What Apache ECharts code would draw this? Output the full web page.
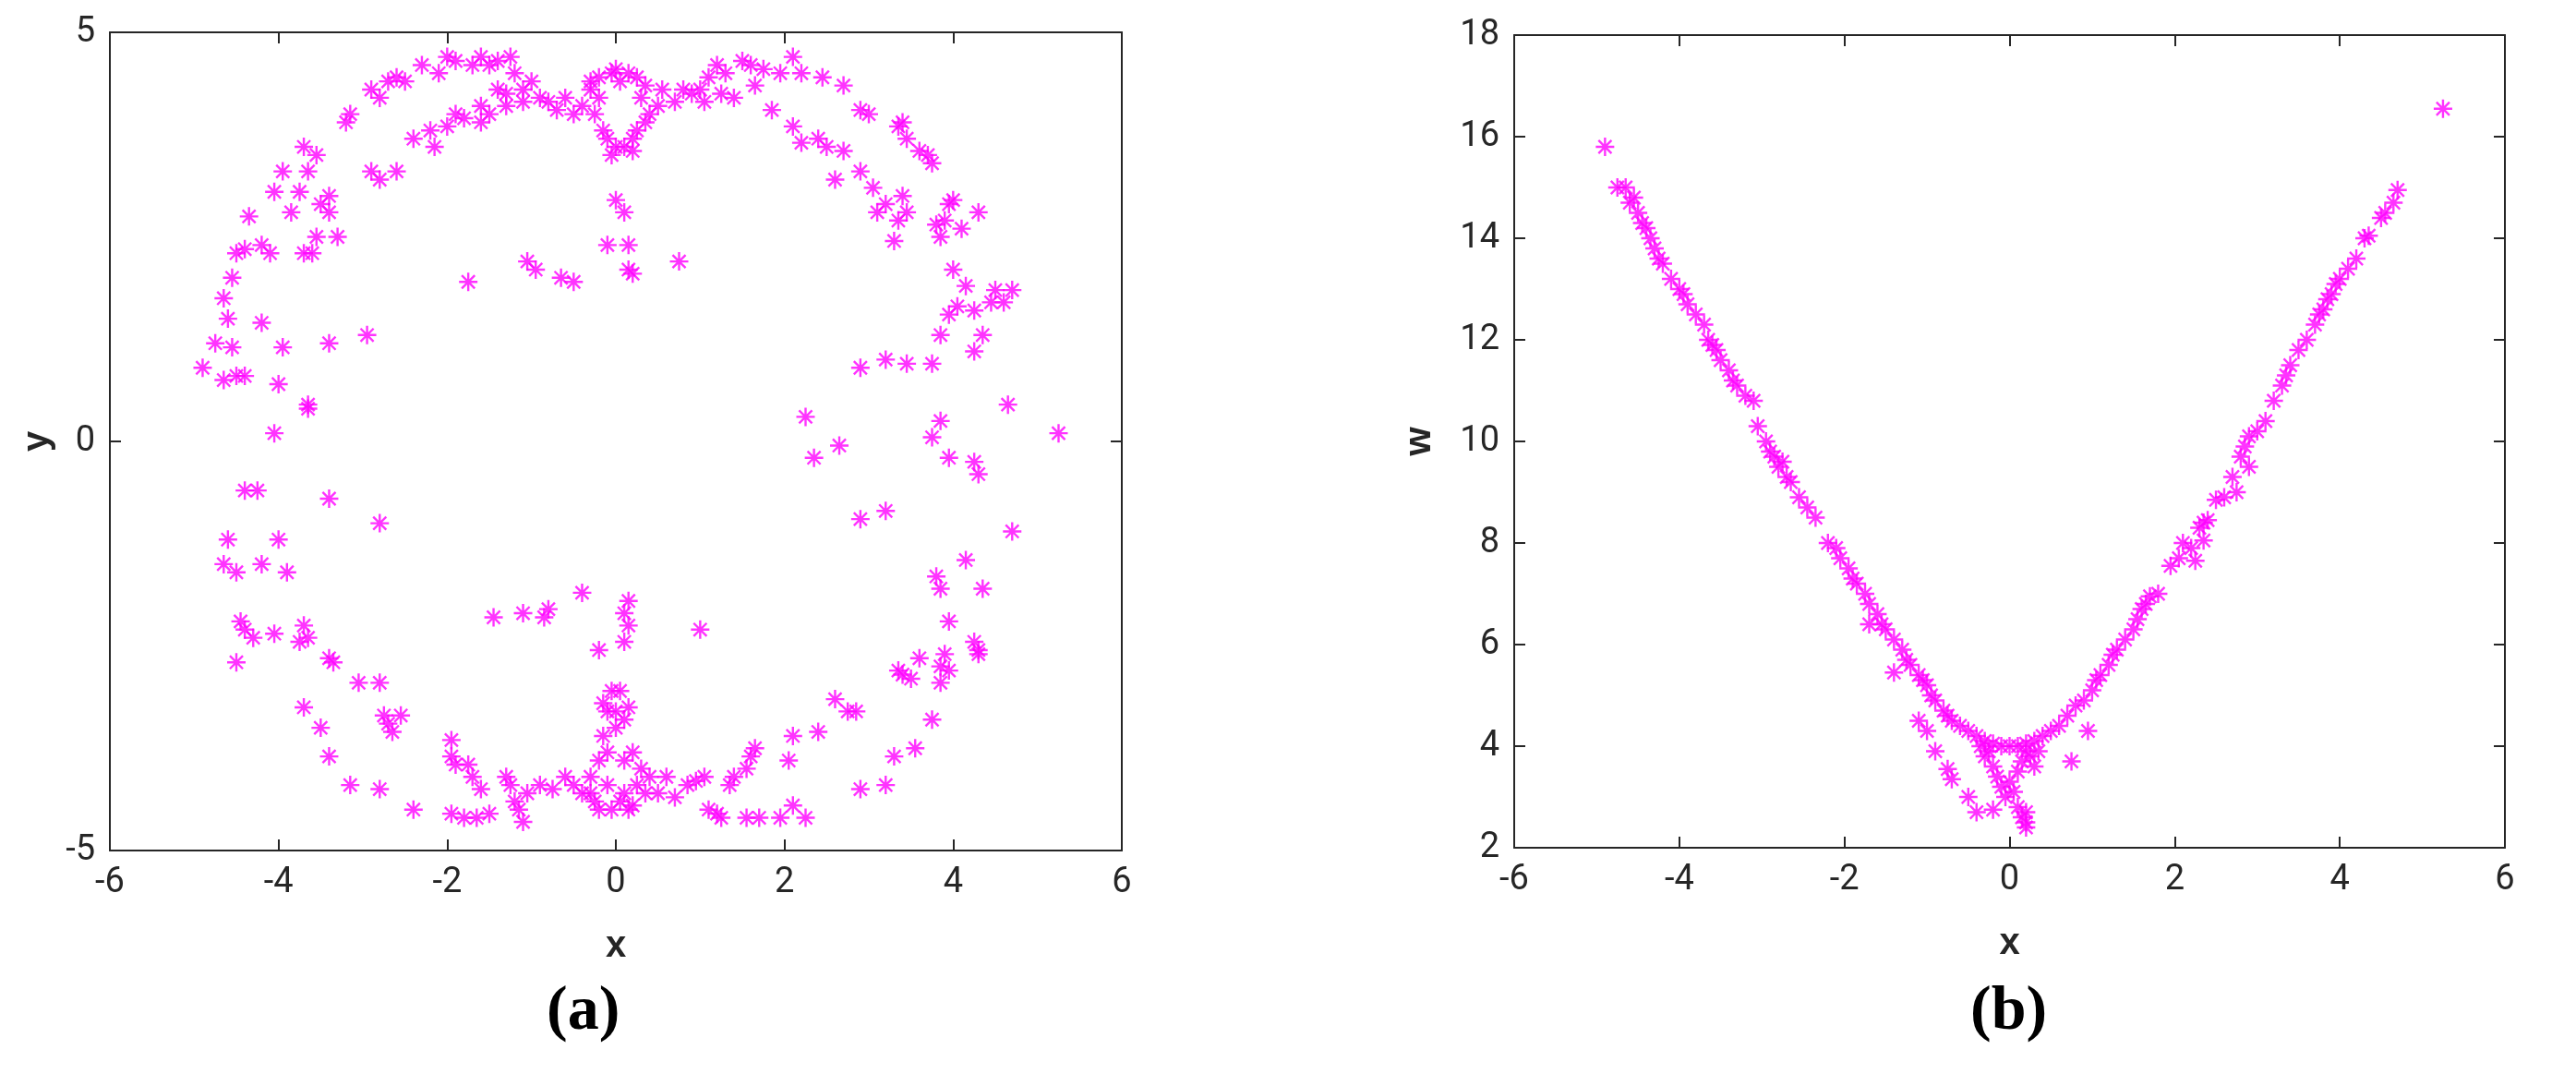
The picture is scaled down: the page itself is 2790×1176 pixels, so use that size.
<!DOCTYPE html>
<html>
<head>
<meta charset="utf-8">
<script src="https://cdn.jsdelivr.net/npm/echarts@6/dist/echarts.min.js"></script>
<style>
  html, body { margin: 0; padding: 0; background: #fff; }
  #main { width: 2790px; height: 1176px; }
</style>
</head>
<body>
<div id="main"></div>
<script>
// panel (a): x vs y
var pointsXY = [
  [-4.9,0.9],[-4.75,1.2],[-4.65,1.75],[-4.6,1.5],[-4.55,2.0],[-4.5,2.3],[-4.4,2.35],[-4.35,2.75],[-4.2,2.4],[-4.1,2.3],
  [-4.05,3.05],[-3.95,3.3],[-3.85,2.8],[-3.75,3.05],[-3.7,2.3],[-3.65,3.3],[-3.6,2.3],[-3.55,2.5],[-3.5,2.9],[-3.4,3.0],
  [-3.4,2.8],[-3.3,2.5],[-3.7,3.6],[-3.55,3.5],[-3.2,3.9],[-3.15,4.0],[-2.9,4.3],[-2.8,4.2],[-2.7,4.4],[-2.6,4.45],
  [-2.5,4.4],[-2.3,4.6],[-2.1,4.5],[-2.0,4.7],[-1.9,4.65],[-1.7,4.6],[-1.6,4.7],[-1.5,4.6],[-1.4,4.65],[-1.25,4.7],
  [-1.2,4.5],[-1.1,4.3],[-1.0,4.4],[-0.9,4.2],[-0.8,4.15],[-0.7,4.05],[-0.6,4.2],[-0.5,4.0],[-0.4,4.1],[-0.3,4.4],
  [-0.25,4.0],[-0.2,4.2],[-0.15,3.8],[-0.1,3.7],[-0.05,4.5],[0,3.6],[0.05,4.4],[0.1,3.6],[0.15,4.5],[0.2,3.7],
  [0.25,3.8],[0.3,4.2],[0.35,3.9],[0.4,4.0],[0.5,4.1],[0.55,4.3],[0.7,4.15],[0.8,4.3],[0.9,4.25],[1.0,4.3],
  [1.1,4.45],[1.2,4.6],[1.3,4.5],[1.4,4.2],[1.5,4.65],[1.6,4.6],[1.65,4.35],[1.75,4.55],[1.85,4.05],[1.95,4.5],
  [2.1,4.7],[2.2,4.5],[2.45,4.45],[2.7,4.35],[2.9,4.05],[3.0,4.0],[-0.3,4.3],[-0.2,4.45],[0.0,4.55],[0.25,4.45],
  [0.35,4.35],[0.2,3.55],[-0.05,3.5],[1.05,4.15],[1.25,4.25],[-1.1,4.15],[-1.3,4.25],
  [-2.9,3.3],[-2.8,3.2],[-2.6,3.3],[-2.4,3.7],[-2.2,3.8],[-2.15,3.6],[-2.0,3.85],[-1.9,4.0],[-1.8,3.95],[-1.6,3.9],
  [-1.6,4.1],[-1.4,4.3],[-1.3,4.1],[-1.5,4.0],
  [2.1,3.85],[2.2,3.65],[2.4,3.7],[2.5,3.6],[2.7,3.55],[2.6,3.2],[2.9,3.3],[3.05,3.1],[3.1,2.8],[3.2,2.9],
  [3.3,2.45],[3.35,2.7],[3.4,3.0],[3.45,2.8],[3.35,3.85],[3.4,3.9],[3.45,3.7],[3.6,3.55],[3.7,3.5],[3.75,3.4],
  [3.8,2.65],[3.85,2.5],[3.9,2.7],[3.95,2.9],[4.0,2.95],[4.1,2.6],[4.3,2.8],[4.0,2.1],[4.05,1.65],[4.15,1.9],
  [3.95,1.55],[3.85,1.3],[4.25,1.6],[4.35,1.3],[4.45,1.7],[4.5,1.85],[4.6,1.7],[4.7,1.85],[4.25,1.1],[3.75,0.95],
  [3.45,0.95],[3.2,1.0],[2.9,0.9],
  [-0.1,2.4],[0,2.95],[0.1,2.8],[0.15,2.4],[0.15,2.1],[0.2,2.05],[0.75,2.2],[-0.5,1.95],[-0.65,2.0],[-0.95,2.1],
  [-1.05,2.2],[-1.75,1.95],[-2.95,1.3],[-3.4,1.2],[-3.95,1.15],[-4.0,0.7],[-4.4,0.8],[-4.5,0.8],[-4.65,0.75],[-4.55,1.15],
  [-4.2,1.45],[-3.65,0.45],[-3.65,0.4],[-4.05,0.1],
  [2.25,0.3],[2.35,-0.2],[2.65,-0.05],[3.85,0.25],[3.75,0.05],[3.95,-0.2],[4.25,-0.25],[4.3,-0.4],[4.65,0.45],[5.25,0.1],
  [2.9,-0.95],[3.2,-0.85],[4.7,-1.1],
  [-4.4,-0.6],[-4.25,-0.6],[-3.4,-0.7],[-2.8,-1.0],[-4.6,-1.2],[-4.0,-1.2],[-4.65,-1.5],[-4.5,-1.6],[-4.2,-1.5],[-3.9,-1.6],
  [-4.45,-2.2],[-4.4,-2.3],[-4.3,-2.4],[-4.5,-2.7],[-4.05,-2.35],[-3.75,-2.45],[-3.7,-2.25],[-3.65,-2.4],[-3.4,-2.65],[-3.35,-2.7],
  [-3.05,-2.95],[-2.8,-2.95],[-3.7,-3.25],[-3.5,-3.5],[-3.4,-3.85],[-3.15,-4.2],[-2.8,-4.25],[-2.75,-3.35],[-2.7,-3.45],[-2.65,-3.55],
  [-2.55,-3.35],[-2.4,-4.5],[-1.95,-3.65],[-1.95,-3.85],[-1.9,-3.95],[-1.75,-3.95],[-1.7,-4.1],[-1.6,-4.25],[-1.95,-4.55],[-1.8,-4.6],
  [-1.65,-4.6],[-1.5,-4.55],[-1.3,-4.1],[-1.25,-4.2],[-1.2,-4.4],[-1.15,-4.5],[-1.1,-4.65],[-1.05,-4.3],[-0.9,-4.2],[-0.75,-4.25],
  [-0.6,-4.1],[-0.5,-4.2],[-0.4,-4.3],[-0.3,-4.1],[-0.25,-4.4],[-0.2,-3.9],[-0.15,-3.6],[-0.1,-3.3],[-0.05,-4.5],[0,-3.5],
  [0.05,-4.4],[0.1,-3.4],[0.15,-4.5],[0.2,-3.8],[0.25,-4.2],[0.3,-4.0],[0.4,-4.1],[0.5,-4.3],[0.6,-4.1],[0.7,-4.35],
  [0.85,-4.2],[0.95,-4.15],[1.05,-4.1],[1.1,-4.5],[1.2,-4.55],[1.25,-4.6],[1.35,-4.2],[1.4,-4.1],[1.55,-4.0],[1.6,-3.85],
  [1.65,-3.75],[1.55,-4.6],[1.7,-4.6],[1.95,-4.6],[2.1,-4.45],[2.25,-4.6],[2.05,-3.9],[2.1,-3.6],[2.4,-3.55],[2.6,-3.15],
  [2.75,-3.3],[2.85,-3.3],[2.9,-4.25],[3.2,-4.2],[3.3,-3.85],[3.55,-3.75],[3.35,-2.8],[3.4,-2.85],[3.5,-2.9],[3.6,-2.65],
  [3.75,-3.4],[3.85,-2.95],[3.95,-2.8],[3.9,-2.6],[3.85,-2.75],[3.95,-2.2],[4.25,-2.45],[4.3,-2.55],[4.3,-2.6],[3.8,-1.65],
  [3.85,-1.8],[4.15,-1.45],[4.35,-1.8],
  [-0.2,-2.55],[0.1,-2.45],[0.15,-2.25],[0.1,-2.1],[0.15,-1.95],[-0.4,-1.85],[-0.85,-2.15],[-0.8,-2.05],[-1.1,-2.1],[-1.45,-2.15],
  [1.0,-2.3],[-0.05,-3.05],[0.05,-3.05],[0,-3.3],[-0.1,-3.8],[0.1,-3.9],[-0.1,-4.2],[0.1,-4.3],[-0.2,-4.5],[0.2,-4.45],
  [-0.3,-4.3],[0.35,-4.3],[-0.15,-3.2],[0.15,-3.25]
];

// panel (b): x vs w
var pointsXW = [
  [-4.9,15.8],[5.25,16.55],[-1.4,5.45],[-1.1,4.5],[-1.0,4.3],[-0.9,3.9],[-0.75,3.55],[-0.7,3.35],[-0.5,3.0],[-0.4,2.7],
  [-0.2,2.75],[0.2,2.4],[0.15,2.6],[0.75,3.7],[0.95,4.3],[-1.7,6.4],
  [-4.75,15.0],[-4.65,15.0],[-4.6,14.7],[-4.55,14.8],[-4.5,14.5],[-4.45,14.3],[-4.4,14.2],[-4.35,14.0],[-4.3,13.8],[-4.25,13.6],
  [-4.2,13.5],[-4.1,13.2],[-4.0,13.0],[-3.95,12.9],[-3.9,12.7],[-3.8,12.5],[-3.7,12.3],[-3.65,12.0],[-3.6,11.9],[-3.55,11.8],
  [-3.5,11.6],[-3.4,11.4],[-3.35,11.2],[-3.3,11.1],[-3.2,10.9],[-3.1,10.8],[-3.05,10.3],[-2.95,10.0],[-2.9,9.8],[-2.85,9.7],
  [-2.8,9.5],[-2.75,9.6],[-2.7,9.3],[-2.65,9.2],[-2.55,8.9],[-2.45,8.7],[-2.35,8.5],[-2.2,8.0],[-2.1,7.9],[-2.05,7.7],
  [-1.95,7.5],[-1.9,7.3],[-1.85,7.2],[-1.75,7.0],[-1.7,6.8],[-1.6,6.6],[-1.55,6.4],[-1.5,6.3],[-1.4,6.1],[-1.3,5.9],
  [-1.25,5.7],[-1.2,5.6],[-1.1,5.4],[-1.05,5.3],[-1.0,5.2],[-0.95,5.0],[-0.9,4.9],[-0.8,4.7],[-0.75,4.6],[-0.7,4.5],
  [-0.6,4.4],[-0.5,4.3],[-0.4,4.2],[-0.3,4.1],[-0.2,4.05],[-0.1,4.0],[0,4.0],
  [0.1,4.0],[0.2,4.05],[0.3,4.1],[0.4,4.2],[0.5,4.3],[0.6,4.4],[0.7,4.6],[0.8,4.8],[0.9,4.9],[1.0,5.1],
  [1.05,5.3],[1.1,5.4],[1.2,5.6],[1.25,5.8],[1.3,5.9],[1.4,6.1],[1.5,6.3],[1.55,6.5],[1.6,6.7],[1.65,6.8],
  [1.7,6.95],[1.8,7.0],[1.95,7.55],[2.05,7.7],[2.1,8.0],[2.2,7.9],[2.25,7.65],[2.3,8.3],[2.35,8.4],[2.4,8.45],
  [2.35,8.05],[2.5,8.85],[2.6,8.9],[2.7,9.3],[2.75,9.0],[2.8,9.7],[2.85,9.9],[2.9,10.1],[2.9,9.5],[3.0,10.2],
  [3.1,10.4],[3.2,10.8],[3.3,11.1],[3.35,11.3],[3.4,11.5],[3.5,11.8],[3.6,12.0],[3.7,12.3],[3.75,12.5],[3.8,12.6],
  [3.85,12.8],[3.9,12.9],[3.95,13.1],[4.0,13.2],[4.1,13.4],[4.2,13.6],[4.3,14.0],[4.35,14.05],[4.5,14.4],[4.55,14.5],
  [4.65,14.7],[4.7,14.95],
  [-0.3,3.8],[-0.2,3.6],[-0.15,3.4],[-0.1,3.2],[-0.05,3.0],[0,3.3],[0.05,3.1],[0.1,3.5],[0.15,3.7],[0.2,3.9],
  [0.25,3.8],[0.3,3.6],[-0.25,3.9],[0.1,2.8],[0.2,2.7],[0.2,2.5],[0.35,3.9],[-0.35,4.0]
];

var xTicksMin = -6, xTicksMax = 6;
var panelLabels = ['(a)', '(b)'];

var MAGENTA = '#ff00ff';
// eight-armed asterisk like MATLAB '*'
var STAR = 'path://M8.8,0h2.4v20h-2.4z M0,8.8h20v2.4h-20z M2.1,3.8l1.7,-1.7l14.1,14.1l-1.7,1.7z M16.2,2.1l1.7,1.7l-14.1,14.1l-1.7,-1.7z';

var chart = echarts.init(document.getElementById('main'));
var FONT = 'Roboto, "Liberation Sans", sans-serif';
var tickLabel = { color: '#262626', fontSize: 38, fontFamily: FONT, margin: 16 };
var line = { show: true, onZero: false, lineStyle: { color: '#262626', width: 2 } };
var tick = { show: true, inside: true, length: 12, lineStyle: { color: '#262626', width: 2 } };
var nameStyle = { fontSize: 40, fontWeight: 'bold', color: '#262626', fontFamily: '"Liberation Sans", Arial, sans-serif' };

function mainX(grid, name) {
  return { gridIndex: grid, type: 'value', min: xTicksMin, max: xTicksMax, interval: 2,
    axisLine: line, axisTick: tick, axisLabel: tickLabel, splitLine: { show: false },
    name: name, nameLocation: 'middle', nameGap: 84, nameTextStyle: nameStyle };
}
function sideAxis(grid, pos, min, max, interval) {
  return { gridIndex: grid, type: 'value', position: pos, min: min, max: max, interval: interval,
    axisLine: line, axisTick: tick, axisLabel: { show: false }, splitLine: { show: false } };
}
function mainY(grid, name, min, max, interval, gap) {
  return { gridIndex: grid, type: 'value', min: min, max: max, interval: interval,
    axisLine: line, axisTick: tick, axisLabel: tickLabel, splitLine: { show: false },
    name: name, nameLocation: 'middle', nameGap: gap, nameTextStyle: nameStyle };
}

chart.setOption({
  backgroundColor: '#fff',
  animation: false,
  grid: [
    { left: 119, right: 1575, top: 35, bottom: 255 },
    { left: 1640, right: 77, top: 38, bottom: 258 }
  ],
  xAxis: [
    mainX(0, 'x'), sideAxis(0, 'top', xTicksMin, xTicksMax, 2),
    mainX(1, 'x'), sideAxis(1, 'top', xTicksMin, xTicksMax, 2)
  ],
  yAxis: [
    mainY(0, 'y', -5, 5, 5, 58), sideAxis(0, 'right', -5, 5, 5),
    mainY(1, 'w', 2, 18, 2, 82), sideAxis(1, 'right', 2, 18, 2)
  ],
  graphic: [
    { type: 'text', left: 632 - 40, top: 1062, style: { text: panelLabels[0], fontSize: 68, fontWeight: 'bold',
      fontFamily: '"Liberation Serif", "DejaVu Serif", serif', fill: '#000' } },
    { type: 'text', left: 2174 - 40, top: 1062, style: { text: panelLabels[1], fontSize: 68, fontWeight: 'bold',
      fontFamily: '"Liberation Serif", "DejaVu Serif", serif', fill: '#000' } }
  ],
  series: [
    { type: 'scatter', xAxisIndex: 0, yAxisIndex: 0, data: pointsXY, symbol: STAR, symbolSize: 20,
      itemStyle: { color: MAGENTA } },
    { type: 'scatter', xAxisIndex: 2, yAxisIndex: 2, data: pointsXW, symbol: STAR, symbolSize: 20,
      itemStyle: { color: MAGENTA } }
  ]
});
</script>
</body>
</html>
